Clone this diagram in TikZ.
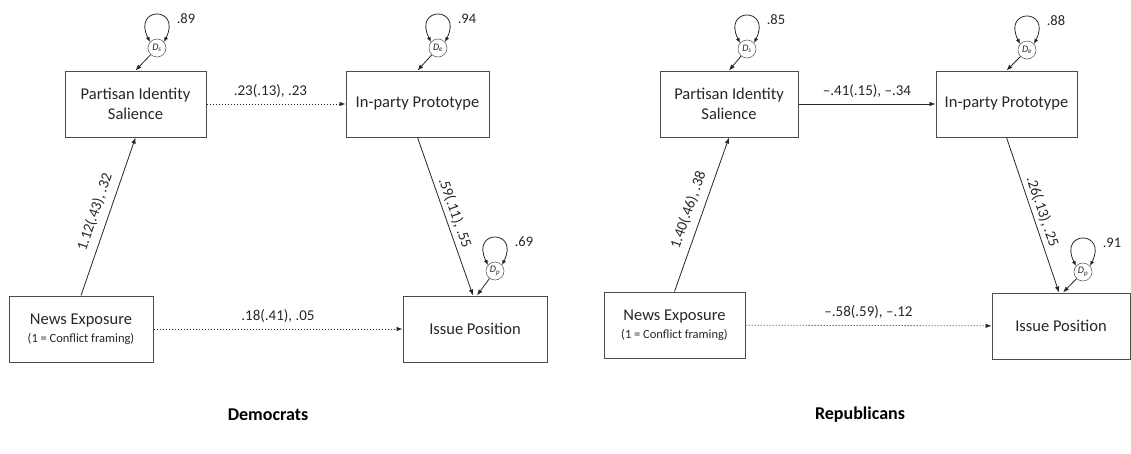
\documentclass[tikz,border=0pt]{standalone}
\usepackage{fontspec}
\setmainfont{Carlito}
\usetikzlibrary{arrows.meta,calc}

% variance loop above a disturbance circle, with its value
\newcommand{\distloop}[2]{%
  \draw[dbl] ($(#1)+(-7,-6)$) .. controls ($(#1)+(-25,-42)$) and ($(#1)+(25,-42)$) .. ($(#1)+(7,-6)$);
  \node[varlab] (#1v) at ($(#1)+(29,-29)$) {#2};}

\begin{document}
\begin{tikzpicture}[x=1pt,y=-1pt,
  box/.style={draw=black!70, line width=1pt, rectangle, minimum height=66pt,
    align=center, inner sep=2pt, font=\fontsize{16.5}{20}\selectfont, text=black!85},
  dist/.style={draw=black!60, circle, line width=0.6pt, minimum size=18pt,
    inner sep=0pt, font=\fontsize{10}{10}\selectfont, text=black!85},
  arr/.style={-{Latex[length=6pt,width=4.5pt]}, line width=0.8pt, draw=black!85},
  dotarr/.style={arr, dash pattern=on 1pt off 2pt},
  dbl/.style={{Latex[length=5pt,width=4pt]}-{Latex[length=5pt,width=4pt]},
    line width=0.8pt, draw=black!85},
  coef/.style={font=\fontsize{15}{15}\selectfont, text=black!85},
  varlab/.style={font=\fontsize{14.5}{15}\selectfont, text=black!85},
  title/.style={font=\bfseries\fontsize{18}{20}\selectfont}
]
\useasboundingbox (0,0) rectangle (1131,453);

% ---------------- Democrats ----------------
\node[box, minimum width=141pt] (pisD) at (135.5,104) {Partisan Identity\\Salience};
\node[box, minimum width=143pt] (ippD) at (417.5,104) {In-party Prototype};
\node[box, minimum width=144pt] (neD) at (81,329)
  {News Exposure\\[-2pt]{\fontsize{12.5}{14}\selectfont (1 = Conflict framing)}};
\node[box, minimum width=144pt] (ipD) at (475,329) {Issue Position};

\node[dist] (dsD) at (157,48) {\textit{D}\textsubscript{\textit{s}}};
\node[dist] (deD) at (438,48) {\textit{D}\textsubscript{\textit{e}}};
\node[dist] (dpD) at (495,271) {\textit{D}\textsubscript{\textit{p}}};
\distloop{dsD}{.89}
\distloop{deD}{.94}
\distloop{dpD}{.69}

\draw[arr] (dsD) -- (pisD.north);
\draw[arr] (deD) -- (ippD.north);
\draw[arr] (dpD) -- ([xshift=2pt]ipD.north);

\draw[dotarr] (pisD) -- node[coef, above=3pt, pos=0.46] {.23(.13), .23} (ippD);
\draw[arr] (neD.north) -- node[coef, sloped, above=4pt] {1.12(.43), .32} (pisD.south);
\draw[arr] (ippD.south) -- node[coef, sloped, above=0pt] {.59(.11), .55} ([xshift=-2pt]ipD.north);
\draw[dotarr] (neD) -- node[coef, above=3pt] {.18(.41), .05} (ipD);

\node[title] (demT) at (268,415) {Democrats};

% ---------------- Republicans ----------------
\node[box, minimum width=138pt] (pisR) at (729,104) {Partisan Identity\\Salience};
\node[box, minimum width=141pt] (ippR) at (1006.5,104) {In-party Prototype};
\node[box, minimum width=141pt] (neR) at (674.5,325)
  {News Exposure\\[-2pt]{\fontsize{12.5}{14}\selectfont (1 = Conflict framing)}};
\node[box, minimum width=138pt] (ipR) at (1061,326) {Issue Position};

\node[dist] (dsR) at (747,49) {\textit{D}\textsubscript{\textit{s}}};
\node[dist] (deR) at (1027,50) {\textit{D}\textsubscript{\textit{e}}};
\node[dist] (dpR) at (1083,272) {\textit{D}\textsubscript{\textit{p}}};
\distloop{dsR}{.85}
\distloop{deR}{.88}
\distloop{dpR}{.91}

\draw[arr] (dsR) -- (pisR.north);
\draw[arr] (deR) -- (ippR.north);
\draw[arr] (dpR) -- ([xshift=2pt]ipR.north);

\draw[arr] (pisR) -- node[coef, above=3pt] {--.41(.15), --.34} (ippR);
\draw[arr] (neR.north) -- node[coef, sloped, above=4pt] {1.40(.46), .38} (pisR.south);
\draw[arr] (ippR.south) -- node[coef, sloped, above=0pt] {.26(.13), .25} ([xshift=-2pt]ipR.north);
\draw[dotarr] (neR) -- node[coef, above=3pt] {--.58(.59), --.12} (ipR);

\node[title] (repT) at (860,415) {Republicans};
\end{tikzpicture}
\end{document}
